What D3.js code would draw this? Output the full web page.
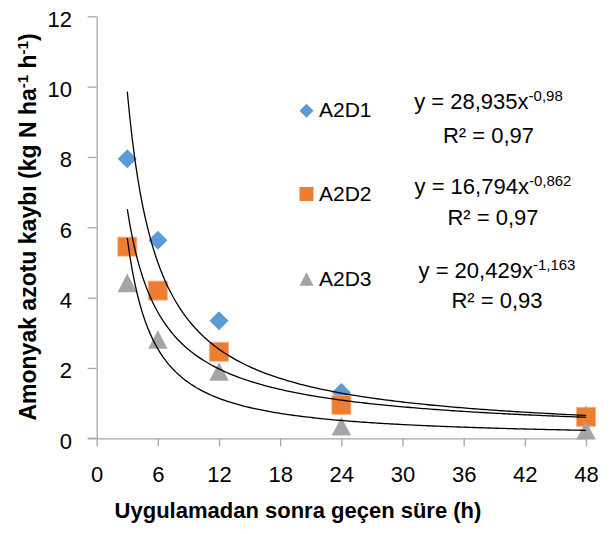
<!DOCTYPE html>
<html>
<head>
<meta charset="utf-8">
<script src="https://cdn.jsdelivr.net/npm/d3@7"></script>
<style>
  html, body { margin: 0; padding: 0; background: #fff; }
  svg { display: block; }
  text { font-family: "Liberation Sans", Arial, sans-serif; fill: #000; }
</style>
</head>
<body>
<svg id="chart" width="610" height="534"></svg>
<script>
// ---- data ----
const hours = [3, 6, 12, 24, 48];
const seriesNames = ["A2D1", "A2D2", "A2D3"];
const a2d1 = [7.95, 5.63, 3.34, 1.30, 0.65];
const a2d2 = [5.45, 4.20, 2.46, 0.95, 0.61];
const a2d3 = [4.42, 2.81, 1.90, 0.34, 0.23];
const fitCoef = [28.935, 16.794, 20.429];
const fitExp = [-0.98, -0.862, -1.163];
const eqCoefLabels = ["28,935", "16,794", "20,429"];
const eqExpLabels = ["-0,98", "-0,862", "-1,163"];
const r2Labels = ["0,97", "0,97", "0,93"];
const xTicks = [0, 6, 12, 18, 24, 30, 36, 42, 48];
const yTicks = [0, 2, 4, 6, 8, 10, 12];
const colors = ["#5B9BD5", "#ED7D31", "#A5A5A5"];
const xTitle = "Uygulamadan sonra geçen süre (h)";

const svg = d3.select("#chart");
const x = d3.scaleLinear().domain([0, 48]).range([96.7, 586]);
const y = d3.scaleLinear().domain([0, 12]).range([438.3, 16.3]);
const axisColor = "#A6A6A6";

// axes
const gx = svg.append("g").attr("transform", `translate(0,${y(0)})`)
  .call(d3.axisBottom(x).tickValues(xTicks).tickSize(8).tickPadding(20).tickSizeOuter(0));
const gy = svg.append("g").attr("transform", `translate(${x(0)},0)`)
  .call(d3.axisLeft(y).tickValues(yTicks).tickSize(9).tickPadding(15.7).tickSizeOuter(0));
[gx, gy].forEach(g => {
  g.select(".domain").attr("stroke", axisColor).attr("stroke-width", 1.3);
  g.selectAll(".tick line").attr("stroke", axisColor).attr("stroke-width", 1.3);
  g.selectAll(".tick text").attr("font-size", 22).attr("font-family", '"Liberation Sans", Arial, sans-serif').attr("fill", "#000");
});
gy.selectAll(".tick text").attr("dy", "0.45em");
svg.append("line").attr("x1", x(0) - 9).attr("x2", x(0)).attr("y1", y(0)).attr("y2", y(0))
  .attr("stroke", axisColor).attr("stroke-width", 1.3);

// markers
const seriesData = [a2d1, a2d2, a2d3];
function markerPath(i, s) {
  const h = s / 2;
  if (i === 0) return `M0,${-h}L${h},0L0,${h}L${-h},0Z`;
  if (i === 1) return `M${-h},${-h}H${h}V${h}H${-h}Z`;
  const th = s * 0.95;
  return `M0,${-th / 2}L${h},${th / 2}L${-h},${th / 2}Z`;
}
seriesData.forEach((vals, i) => {
  svg.append("g").selectAll("path").data(vals).join("path")
    .attr("d", markerPath(i, i === 2 ? 19.5 : 19))
    .attr("transform", (d, j) => `translate(${x(hours[j])},${y(d)})`)
    .attr("fill", colors[i])
    .attr("stroke", i === 1 ? "#F4B183" : "none")
    .attr("stroke-width", i === 1 ? 0.8 : 0);
});

// power trendlines (from the fitted equations shown on the chart)
const line = d3.line().x(d => x(d[0])).y(d => y(d[1]));
fitCoef.forEach((c, i) => {
  const pts = d3.range(3, 48.01, 0.25).map(t => [t, c * Math.pow(t, fitExp[i])]);
  svg.append("path").attr("d", line(pts)).attr("fill", "none")
    .attr("stroke", "#000").attr("stroke-width", 1.3);
});

// legend
const legY = [110.7, 194, 279];
const legBase = [117, 200.7, 286];
seriesNames.forEach((n, i) => {
  svg.append("path").attr("d", markerPath(i, 14))
    .attr("transform", `translate(306.5,${legY[i]})`).attr("fill", colors[i]);
  svg.append("text").attr("x", 319).attr("y", legBase[i]).attr("font-size", 21).text(n);
});

// equations
const eqX = [488.5, 493, 497];
const eqBase = [109.3, 194, 278.3];
const r2Base = [143.3, 225, 308.3];
eqCoefLabels.forEach((c, i) => {
  const t = svg.append("text").attr("x", eqX[i]).attr("y", eqBase[i])
    .attr("text-anchor", "middle").attr("font-size", 22);
  t.append("tspan").text(`y = ${c}x`);
  t.append("tspan").attr("dy", -8).attr("font-size", 15).text(eqExpLabels[i]);
  svg.append("text").attr("x", eqX[i]).attr("y", r2Base[i])
    .attr("text-anchor", "middle").attr("font-size", 22).text(`R² = ${r2Labels[i]}`);
});

// axis titles
svg.append("text").attr("x", 298).attr("y", 518).attr("text-anchor", "middle")
  .attr("font-size", 22).attr("font-weight", "bold").text(xTitle);
const yt = svg.append("text").attr("transform", "translate(36,227) rotate(-90)")
  .attr("text-anchor", "middle").attr("font-size", 23).attr("font-weight", "bold");
yt.append("tspan").text("Amonyak azotu kaybı (kg N ha");
yt.append("tspan").attr("dy", -8).attr("font-size", 15).text("-1");
yt.append("tspan").attr("dy", 8).text(" h");
yt.append("tspan").attr("dy", -8).attr("font-size", 15).text("-1");
yt.append("tspan").attr("dy", 8).text(")");
</script>
</body>
</html>
